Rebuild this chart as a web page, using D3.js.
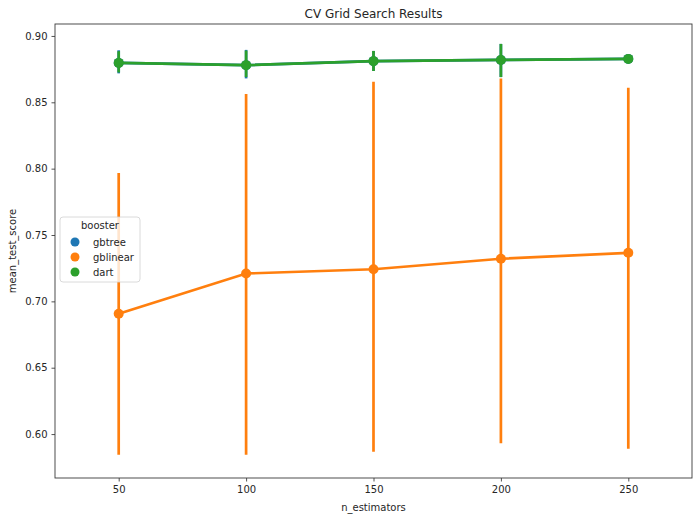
<!DOCTYPE html>
<html>
<head>
<meta charset="utf-8">
<script src="https://cdn.jsdelivr.net/npm/d3@7"></script>
<style>
  html, body { margin: 0; padding: 0; background: #fff; }
  svg { display: block; font-family: "DejaVu Sans", sans-serif; }
</style>
</head>
<body>
<div id="chart"></div>
<script>
// categories
const nEstimators = [50, 100, 150, 200, 250];
const boosters = ['gbtree', 'gblinear', 'dart'];
const yTicks = [0.60, 0.65, 0.70, 0.75, 0.80, 0.85, 0.90];

// mean scores per booster
const gbtreeMean   = [0.8797, 0.8780, 0.8810, 0.8819, 0.8827];
const gblinearMean = [0.6907, 0.7210, 0.7242, 0.7321, 0.7366];
const dartMean     = [0.8797, 0.8780, 0.8810, 0.8819, 0.8827];

// confidence intervals (low / high)
const gbtreeLow   = [0.8718, 0.8680, 0.8736, 0.8690, 0.8820];
const gbtreeHigh  = [0.8892, 0.8895, 0.8887, 0.8940, 0.8834];
const gblinearLow  = [0.5845, 0.5845, 0.5867, 0.5930, 0.5890];
const gblinearHigh = [0.7968, 0.8563, 0.8654, 0.8680, 0.8610];
const dartLow   = [0.8725, 0.8690, 0.8736, 0.8690, 0.8820];
const dartHigh  = [0.8885, 0.8890, 0.8887, 0.8940, 0.8834];

const colors = { gbtree: '#1f77b4', gblinear: '#ff7f0e', dart: '#2ca02c' };

const series = [
  { key: 'gbtree', mean: gbtreeMean, low: gbtreeLow, high: gbtreeHigh },
  { key: 'gblinear', mean: gblinearMean, low: gblinearLow, high: gblinearHigh },
  { key: 'dart', mean: dartMean, low: dartLow, high: dartHigh }
];

const width = 700, height = 515;
const margin = { top: 24, right: 8, bottom: 37, left: 55 };
const innerW = width - margin.left - margin.right;
const innerH = height - margin.top - margin.bottom;

const svg = d3.select('#chart').append('svg')
  .attr('width', width)
  .attr('height', height);

const g = svg.append('g')
  .attr('transform', `translate(${margin.left},${margin.top})`);

// seaborn pointplot: categories at 0..n-1, xlim -0.5..n-0.5
const x = d3.scaleLinear()
  .domain([-0.5, nEstimators.length - 0.5])
  .range([0, innerW]);

const y = d3.scaleLinear()
  .domain([0.5669, 0.9090])
  .range([innerH, 0]);

// axes
const xAxis = g.append('g')
  .attr('transform', `translate(0,${innerH})`)
  .call(d3.axisBottom(x).tickValues(d3.range(nEstimators.length))
    .tickFormat(i => nEstimators[i]).tickSizeOuter(0).tickSize(3.5).tickPadding(4));

const yAxis = g.append('g')
  .call(d3.axisLeft(y).tickValues(yTicks).tickFormat(d3.format('.2f'))
    .tickSizeOuter(0).tickSize(3.5).tickPadding(4));

[xAxis, yAxis].forEach(a => {
  a.selectAll('text').attr('font-size', 10).attr('fill', '#262626')
    .attr('font-family', '"DejaVu Sans", sans-serif');
  a.selectAll('line').attr('stroke', '#262626').attr('stroke-width', 0.8);
  a.select('.domain').remove();
});

// frame
g.append('rect')
  .attr('width', innerW).attr('height', innerH)
  .attr('fill', 'none').attr('stroke', '#3a3a3a').attr('stroke-width', 0.9);

// series: lines, error bars, points
const line = d3.line()
  .x((d, i) => x(i))
  .y(d => y(d));

series.forEach(s => {
  const sg = g.append('g').attr('class', 'series-' + s.key);
  const c = colors[s.key];

  sg.selectAll('line.err')
    .data(s.mean)
    .join('line')
    .attr('class', 'err')
    .attr('x1', (d, i) => x(i)).attr('x2', (d, i) => x(i))
    .attr('y1', (d, i) => y(s.low[i])).attr('y2', (d, i) => y(s.high[i]))
    .attr('stroke', c).attr('stroke-width', 2.7);

  sg.append('path')
    .datum(s.mean)
    .attr('d', line)
    .attr('fill', 'none')
    .attr('stroke', c)
    .attr('stroke-width', 2.7);

  sg.selectAll('circle')
    .data(s.mean)
    .join('circle')
    .attr('cx', (d, i) => x(i))
    .attr('cy', d => y(d))
    .attr('r', 5)
    .attr('fill', c);
});

// title and axis labels
svg.append('text')
  .attr('x', margin.left + innerW / 2).attr('y', 18)
  .attr('text-anchor', 'middle').attr('font-size', 12).attr('fill', '#262626')
  .text('CV Grid Search Results');

svg.append('text')
  .attr('x', margin.left + innerW / 2).attr('y', height - 4)
  .attr('text-anchor', 'middle').attr('font-size', 10).attr('fill', '#262626')
  .text('n_estimators');

svg.append('text')
  .attr('transform', `translate(16,${margin.top + innerH / 2}) rotate(-90)`)
  .attr('text-anchor', 'middle').attr('font-size', 10).attr('fill', '#262626')
  .text('mean_test_score');

// legend
const lg = svg.append('g').attr('transform', 'translate(60,217)');
lg.append('rect')
  .attr('width', 80).attr('height', 65).attr('rx', 3)
  .attr('fill', 'rgba(255,255,255,0.8)').attr('stroke', '#d0d0d0').attr('stroke-width', 0.8);
lg.append('text')
  .attr('x', 40).attr('y', 12).attr('text-anchor', 'middle')
  .attr('font-size', 10).attr('fill', '#262626').text('booster');

const items = lg.selectAll('g.item')
  .data(boosters)
  .join('g')
  .attr('class', 'item')
  .attr('transform', (d, i) => `translate(0,${25 + i * 15})`);
items.append('circle').attr('cx', 15).attr('cy', 0).attr('r', 4.5).attr('fill', d => colors[d]);
items.append('text').attr('x', 33).attr('y', 3.5)
  .attr('font-size', 10).attr('fill', '#262626').text(d => d);
</script>
</body>
</html>
